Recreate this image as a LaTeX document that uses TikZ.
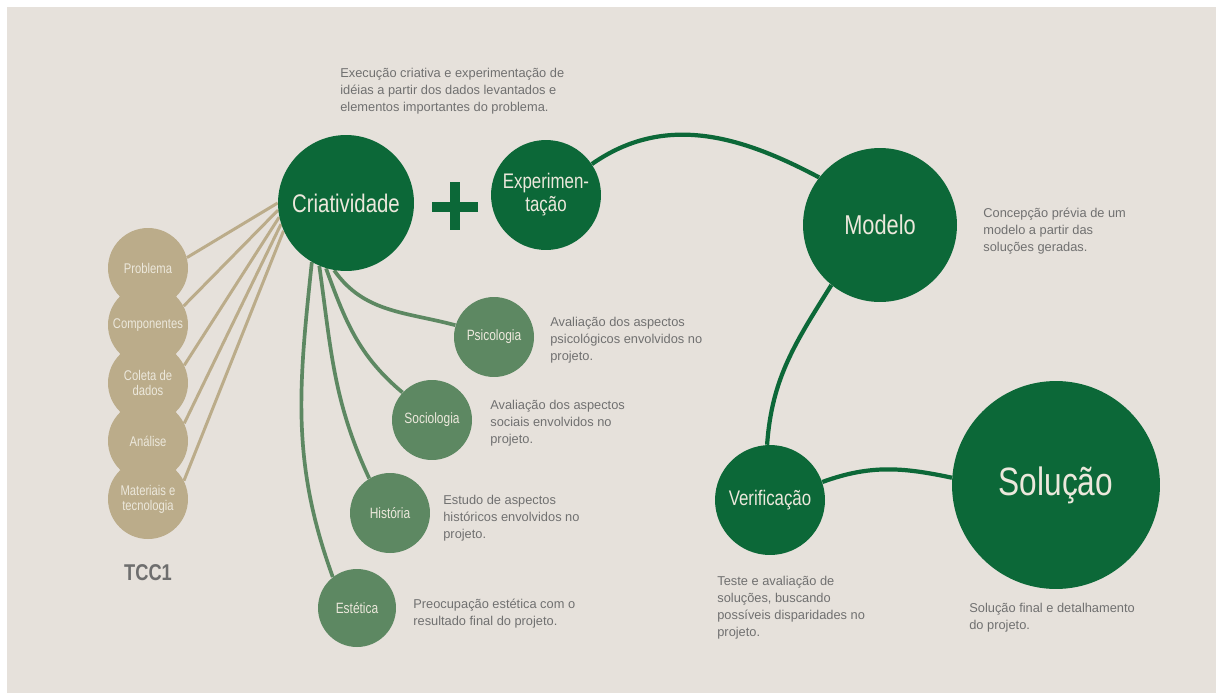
\documentclass[tikz,border=0pt]{standalone}
\usepackage{fontspec}
\setmainfont{Liberation Sans}
\newfontfamily\condfont[FakeStretch=0.8]{Liberation Sans}
\definecolor{paper}{RGB}{230,225,219}
\definecolor{darkgreen}{RGB}{12,104,56}
\definecolor{midgreen}{RGB}{93,136,98}
\definecolor{sand}{RGB}{187,172,138}
\definecolor{txtgray}{RGB}{112,112,112}
\definecolor{lbl}{RGB}{236,232,220}
\pgfdeclarelayer{back}
\pgfsetlayers{back,main}
\tikzset{
  stage/.style={circle, fill=darkgreen, text=lbl, inner sep=0pt, align=center},
  aspect/.style={circle, fill=midgreen, text=lbl, inner sep=0pt, minimum size=1.6cm,
    font=\condfont\fontsize{8.5}{10}\selectfont},
  tccstep/.style={circle, fill=sand, text=lbl, inner sep=0pt, minimum size=1.6cm, align=center,
    font=\condfont\fontsize{8}{8.6}\selectfont},
  desc/.style={anchor=base west, align=left, inner sep=0pt, text=txtgray,
    font=\fontsize{7.3}{9.6}\selectfont},
  sandline/.style={draw=sand, line width=1.7pt},
  aspectline/.style={draw=midgreen, line width=2.1pt},
  stageline/.style={draw=darkgreen, line width=2.4pt}
}
\begin{document}
\begin{tikzpicture}[x=0.02cm, y=-0.02cm]
\useasboundingbox (0,0) rectangle (1216,693);
\begin{pgfonlayer}{back}
\fill[white] (0,0) rectangle (1216,693);
\fill[paper] (7,7) rectangle (1216,693);
\end{pgfonlayer}

\node[stage, minimum size=2.72cm, font=\condfont\fontsize{14.5}{16}\selectfont] (crea) at (346,203) {Criatividade};
\fill[darkgreen] (432,202) rectangle (478,212);
\fill[darkgreen] (450,182) rectangle (460,230);
\node[stage, minimum size=2.2cm, font=\condfont\fontsize{12}{13}\selectfont] (exp) at (546,195) {Experimen-\\tação};
\node[stage, minimum size=3.08cm, font=\condfont\fontsize{15.5}{17}\selectfont] (modelo) at (880,225) {Modelo};
\node[stage, minimum size=2.2cm, font=\condfont\fontsize{12}{13}\selectfont] (verif) at (770,500) {Verificação};
\node[stage, minimum size=4.16cm, font=\condfont\fontsize{22.5}{24}\selectfont] (solucao) at (1056,485) {Solução};

\node[tccstep] (problema) at (148,268) {Problema};
\node[tccstep] (componentes) at (148,325) {Componentes};
\node[tccstep] (coleta) at (148,383) {Coleta de\\dados};
\node[tccstep] (analise) at (148,441) {Análise};
\node[tccstep] (materiais) at (148,499) {Materiais e\\tecnologia};
\node[text=black!57, font=\condfont\bfseries\fontsize{13}{14}\selectfont] (tcc) at (148,573) {TCC1};

\node[aspect] (psico) at (494,337) {Psicologia};
\node[aspect] (socio) at (432,420) {Sociologia};
\node[aspect] (hist) at (390,513) {História};
\node[aspect, minimum size=1.56cm] (estet) at (357,608) {Estética};

\node[desc] (creadesc) at (340,111) {Execução criativa e experimentação de\\idéias a partir dos dados levantados e\\elementos importantes do problema.};
\node[desc] (psicodesc) at (550,360) {Avaliação dos aspectos\\psicológicos envolvidos no\\projeto.};
\node[desc] (sociodesc) at (490,443) {Avaliação dos aspectos\\sociais envolvidos no\\projeto.};
\node[desc] (histdesc) at (443,538) {Estudo de aspectos\\históricos envolvidos no\\projeto.};
\node[desc] (estetdesc) at (413,625) {Preocupação estética com o\\resultado final do projeto.};
\node[desc] (modelodesc) at (983,251) {Concepção prévia de um\\modelo a partir das\\soluções geradas.};
\node[desc] (verifdesc) at (717,636) {Teste e avaliação de\\soluções, buscando\\possíveis disparidades no\\projeto.};
\node[desc] (solucaodesc) at (969,629) {Solução final e detalhamento\\do projeto.};

\begin{pgfonlayer}{back}
\draw[sandline] (crea.180) -- (problema.15);
\draw[sandline] (crea.186) -- (componentes.28);
\draw[sandline] (crea.192) -- (coleta.26);
\draw[sandline] (crea.198) -- (analise.26);
\draw[sandline] (crea.204) -- (materiais.27);
\draw[aspectline] (crea.260) to[out=-55, in=165] (psico.163);
\draw[aspectline] (crea.253) to[out=-70, in=140] (socio.137);
\draw[aspectline] (crea.247) to[out=-82, in=115] (hist.121);
\draw[aspectline] (crea.240) to[out=-96, in=110] (estet.128);
\draw[stageline] (exp.34) to[out=35, in=152] (modelo.142);
\draw[stageline] (modelo.231) to[out=-122, in=86] (verif.93);
\draw[stageline] (verif.19) to[out=20, in=168] (solucao.176);
\end{pgfonlayer}
\end{tikzpicture}
\end{document}
